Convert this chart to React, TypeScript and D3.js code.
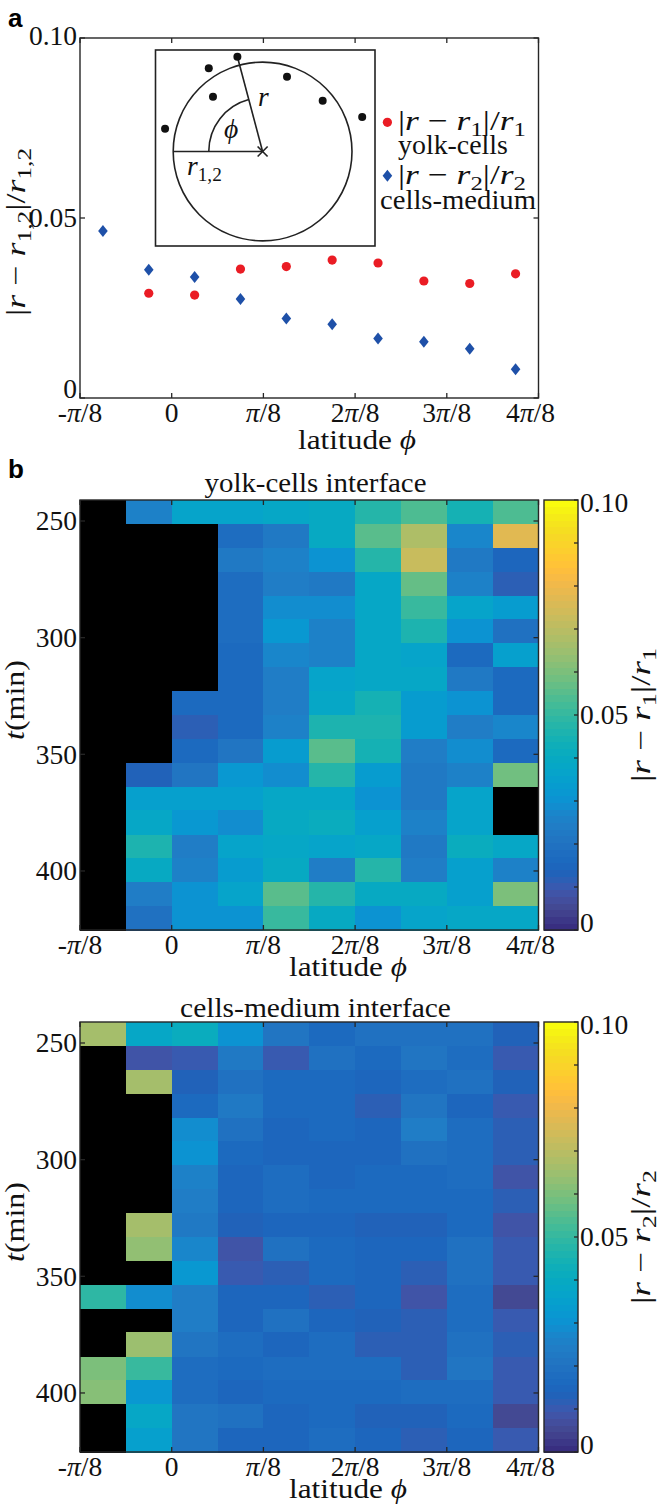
import React, { useLayoutEffect, useRef, useState } from "react";
import * as d3 from "d3";

const PI = Math.PI;

// ---------- categories / ticks ----------
const latitudeCenters = [-0.2945, -0.0982, 0.0982, 0.2945, 0.4909, 0.6872, 0.8836, 1.0799, 1.2763, 1.4726];
const latitudeBinWidth = PI / 16;
const latitudeTicks = [-PI / 8, 0, PI / 8, (2 * PI) / 8, (3 * PI) / 8, (4 * PI) / 8];
const latitudeTickLabels = ["-π/8", "0", "π/8", "2π/8", "3π/8", "4π/8"];

const deviationTicks = [0, 0.05, 0.1];
const deviationTickLabels = ["0", "0.05", "0.10"];

// ---------- panel a series ----------
const yolkCellsDeviation = [null, 0.0291, 0.0286, 0.0358, 0.0365, 0.0383, 0.0375, 0.0325, 0.0318, 0.0345];
const cellsMediumDeviation = [0.0464, 0.0356, 0.0336, 0.0275, 0.0221, 0.0205, 0.0165, 0.0156, 0.0137, 0.008];

// ---------- panel b ----------
const timeCenters = [246.1, 256.4, 266.6, 276.8, 287.1, 297.3, 307.6, 317.8, 328.0, 338.3, 348.5, 358.8, 369.0, 379.2, 389.5, 399.7, 410.0, 420.2];
const timeBinWidth = 10.24;
const timeTicks = [250, 300, 350, 400];
const timeTickLabels = ["250", "300", "350", "400"];

const colorbarMinorTicks = [0, 0.01, 0.02, 0.03, 0.04, 0.05, 0.06, 0.07, 0.08, 0.09, 0.1];
const colorbarTicks = [0, 0.05, 0.1];
const colorbarTickLabels = ["0", "0.05", "0.10"];

const N = null;
const yolkCellsMap: (number | null)[][] = [
  [N, 0.025, 0.036, 0.036, 0.038, 0.040, 0.047, 0.054, 0.044, 0.054],
  [N, N, N, 0.018, 0.023, 0.040, 0.055, 0.068, 0.027, 0.077],
  [N, N, N, 0.023, 0.025, 0.031, 0.047, 0.073, 0.023, 0.015],
  [N, N, N, 0.018, 0.024, 0.023, 0.039, 0.057, 0.025, 0.012],
  [N, N, N, 0.018, 0.029, 0.029, 0.039, 0.050, 0.036, 0.033],
  [N, N, N, 0.018, 0.032, 0.025, 0.039, 0.046, 0.031, 0.019],
  [N, N, N, 0.017, 0.027, 0.025, 0.039, 0.036, 0.017, 0.035],
  [N, N, N, 0.017, 0.024, 0.036, 0.039, 0.038, 0.022, 0.017],
  [N, N, 0.016, 0.017, 0.024, 0.039, 0.045, 0.034, 0.031, 0.017],
  [N, N, 0.012, 0.017, 0.026, 0.046, 0.046, 0.034, 0.024, 0.028],
  [N, N, 0.017, 0.021, 0.034, 0.055, 0.045, 0.024, 0.029, 0.017],
  [N, 0.014, 0.021, 0.032, 0.029, 0.047, 0.034, 0.023, 0.026, 0.058],
  [N, 0.035, 0.035, 0.035, 0.039, 0.039, 0.031, 0.022, 0.036, N],
  [N, 0.039, 0.032, 0.029, 0.040, 0.041, 0.035, 0.026, 0.036, N],
  [N, 0.046, 0.024, 0.037, 0.039, 0.037, 0.038, 0.022, 0.042, 0.039],
  [N, 0.040, 0.026, 0.033, 0.040, 0.024, 0.047, 0.024, 0.035, 0.026],
  [N, 0.024, 0.031, 0.036, 0.055, 0.047, 0.040, 0.040, 0.035, 0.060],
  [N, 0.019, 0.031, 0.030, 0.050, 0.040, 0.031, 0.036, 0.039, 0.039],
];

const cellsMediumMap: (number | null)[][] = [
  [0.067, 0.038, 0.041, 0.031, 0.021, 0.017, 0.019, 0.019, 0.019, 0.014],
  [N, 0.008, 0.010, 0.023, 0.010, 0.019, 0.016, 0.021, 0.018, 0.010],
  [N, 0.067, 0.014, 0.019, 0.016, 0.016, 0.015, 0.018, 0.019, 0.013],
  [N, N, 0.017, 0.023, 0.017, 0.017, 0.012, 0.021, 0.015, 0.010],
  [N, N, 0.029, 0.019, 0.015, 0.017, 0.015, 0.024, 0.018, 0.012],
  [N, N, 0.031, 0.017, 0.015, 0.015, 0.015, 0.019, 0.018, 0.012],
  [N, N, 0.026, 0.015, 0.018, 0.015, 0.016, 0.016, 0.018, 0.008],
  [N, N, 0.024, 0.015, 0.018, 0.016, 0.016, 0.016, 0.017, 0.011],
  [N, 0.067, 0.023, 0.014, 0.015, 0.015, 0.014, 0.013, 0.016, 0.008],
  [N, 0.064, 0.028, 0.008, 0.019, 0.016, 0.015, 0.015, 0.019, 0.010],
  [N, N, 0.032, 0.010, 0.012, 0.016, 0.015, 0.012, 0.019, 0.010],
  [0.049, 0.029, 0.024, 0.015, 0.015, 0.012, 0.015, 0.009, 0.018, 0.006],
  [N, N, 0.024, 0.015, 0.019, 0.015, 0.013, 0.012, 0.018, 0.010],
  [N, 0.065, 0.021, 0.018, 0.015, 0.018, 0.012, 0.012, 0.019, 0.011],
  [0.060, 0.051, 0.018, 0.017, 0.018, 0.018, 0.018, 0.012, 0.021, 0.010],
  [0.061, 0.032, 0.018, 0.015, 0.017, 0.016, 0.016, 0.018, 0.018, 0.010],
  [N, 0.039, 0.021, 0.019, 0.015, 0.017, 0.013, 0.013, 0.016, 0.006],
  [N, 0.035, 0.021, 0.015, 0.015, 0.018, 0.015, 0.012, 0.015, 0.010],
];

// parula(64)
const parula = [
  "#352a87", "#363093", "#3637a0", "#353dad", "#3243ba", "#2c4ac7", "#2053d4", "#0f5cdd",
  "#0363e1", "#0268e1", "#046de0", "#0871de", "#0d75dc", "#1079da", "#127dd8", "#1481d6",
  "#1485d4", "#1389d3", "#108ed2", "#0c93d2", "#0998d1", "#079ccf", "#06a0cd", "#06a4ca",
  "#06a7c6", "#07a9c2", "#0aacbe", "#0faeb9", "#15b1b4", "#1db3af", "#25b5a9", "#2eb7a4",
  "#38b99e", "#42bb98", "#4dbc92", "#59bd8c", "#65be86", "#71bf80", "#7cbf7b", "#87bf77",
  "#92bf73", "#9cbf6f", "#a5be6b", "#aebe67", "#b7bd64", "#c0bc60", "#c8bc5d", "#d1bb59",
  "#d9ba56", "#e1b952", "#e9b94e", "#f1b94a", "#f8bb44", "#fdbe3d", "#ffc337", "#fec832",
  "#fcce2e", "#fad32a", "#f7d826", "#f5de21", "#f5e41d", "#f5eb18", "#f6f313", "#f9fb0e",
];
// printed look: deep blues are duller in the reference
const parulaPrint = parula.map((c) => {
  const h = d3.hsl(c);
  const w = Math.max(0, Math.min(1, (h.h - 200) / 15)) * Math.max(0, Math.min(1, (252 - h.h) / 15));
  h.s = h.s * (1 - 0.3 * w);
  h.l = h.l * (1 - 0.05 * w);
  return h.formatHex();
});

const SERIF = "'Liberation Serif', 'Times New Roman', 'DejaVu Serif', serif";
const SANS = "'Liberation Sans', Arial, sans-serif";
const F = 27.5;
const INK = "#262626";
const TXT = "#111";

const X0 = 80;
const X1 = 538.5;
const x = d3.scaleLinear().domain([-PI / 8, PI / 2]).range([X0, X1]);
const color = d3.scaleQuantize<string>().domain([0, 0.1]).range(parulaPrint);

function PiLabel({ label }: { label: string }) {
  const i = label.indexOf("π");
  if (i < 0) return <>{label}</>;
  return (
    <>
      <tspan>{label.slice(0, i)}</tspan>
      <tspan fontStyle="italic">π</tspan>
      <tspan>{label.slice(i + 1)}</tspan>
    </>
  );
}

function RDev({ sub }: { sub: string }) {
  const s = F * 0.7;
  const d = F * 0.22;
  return (
    <>
      <tspan>|</tspan>
      <tspan fontStyle="italic">r</tspan>
      <tspan>{"\u2005−\u2005"}</tspan>
      <tspan fontStyle="italic">r</tspan>
      <tspan fontSize={s} dy={d}>{sub}</tspan>
      <tspan dy={-d}>|/</tspan>
      <tspan fontStyle="italic">r</tspan>
      <tspan fontSize={s} dy={d}>{sub}</tspan>
    </>
  );
}

// text that is scaled along its direction to a measured target width
function FitText({ x: px, y: py, rotate = 0, anchor = "start", width, children }: { x: number; y: number; rotate?: number; anchor?: string; width: number; children: React.ReactNode }) {
  const ref = useRef<SVGTextElement>(null);
  const [s, setS] = useState(1);
  useLayoutEffect(() => {
    const el = ref.current;
    if (!el) return;
    const w = el.getBBox().width;
    if (w > 0) setS(width / w);
  }, [width]);
  return (
    <g transform={`translate(${px},${py}) rotate(${rotate}) scale(${s},1)`}>
      <text ref={ref} x={0} y={0} textAnchor={anchor as any} fontFamily={SERIF} fontSize={F} fill={TXT}>
        {children}
      </text>
    </g>
  );
}

function LatitudeAxis({ top, bottom, labelY, latY, latX }: { top: number; bottom: number; labelY: number; latY: number; latX: number }) {
  return (
    <g>
      {latitudeTicks.map((t, i) => (
        <g key={i}>
          <line x1={x(t)} x2={x(t)} y1={bottom} y2={bottom - 5} stroke={INK} strokeWidth={1.3} />
          <line x1={x(t)} x2={x(t)} y1={top} y2={top + 5} stroke={INK} strokeWidth={1.3} />
          <text x={x(t)} dx={i === latitudeTicks.length - 1 ? -8 : 0} y={labelY} textAnchor="middle" fontFamily={SERIF} fontSize={F} fill={TXT}>
            <PiLabel label={latitudeTickLabels[i]} />
          </text>
        </g>
      ))}
      <FitText x={latX} y={latY} anchor="middle" width={118}>
        latitude <tspan fontStyle="italic">ϕ</tspan>
      </FitText>
    </g>
  );
}

// inset schematic: dot positions relative to circle radius
const insetDots = [
  [-0.602, -0.931], [-0.282, -1.06], [0.273, -0.837], [-0.555, -0.613],
  [0.672, -0.568], [1.114, -0.386], [-1.091, -0.255],
];

function PanelA() {
  const yA = d3.scaleLinear().domain([0, 0.1]).range([398, 38]);
  const top = 38, bottom = 398;
  const labelDy = [0, 9, 7];
  const cx = 262.6, cy = 151.5, R = 89.4;
  const rDot = insetDots[1];
  const ang = Math.atan2(rDot[1], rDot[0]) + 2 * PI;
  const arc = d3.path();
  arc.arc(cx, cy, R * 0.602, PI, ang, false);
  const diamond = (px: number, py: number) => `M${px},${py - 6}L${px + 4.8},${py}L${px},${py + 6}L${px - 4.8},${py}Z`;
  return (
    <g>
      <text x={8} y={27} fontFamily={SANS} fontWeight="bold" fontSize={26}>a</text>
      <rect x={X0} y={top} width={X1 - X0} height={bottom - top} fill="white" stroke={INK} strokeWidth={1.4} />
      {deviationTicks.map((v, i) => (
        <g key={i}>
          <line x1={X0} x2={X0 + 5} y1={yA(v)} y2={yA(v)} stroke={INK} strokeWidth={1.3} />
          <line x1={X1} x2={X1 - 5} y1={yA(v)} y2={yA(v)} stroke={INK} strokeWidth={1.3} />
          <text x={77} y={yA(v) + labelDy[i]} textAnchor="end" fontFamily={SERIF} fontSize={F} fill={TXT}>{deviationTickLabels[i]}</text>
        </g>
      ))}
      <LatitudeAxis top={top} bottom={bottom} labelY={422} latY={449} latX={357} />
      <FitText x={25} y={232} rotate={-90} anchor="middle" width={168}>
        <RDev sub="1,2" />
      </FitText>
      {/* inset */}
      <rect x={155.5} y={50} width={219.5} height={196} fill="white" stroke="#222" strokeWidth={1.6} />
      <circle cx={cx} cy={cy} r={R} fill="none" stroke="#222" strokeWidth={1.6} />
      <line x1={cx - R} x2={cx} y1={cy} y2={cy} stroke="#222" strokeWidth={1.6} />
      <line x1={cx} y1={cy} x2={cx + rDot[0] * R} y2={cy + rDot[1] * R} stroke="#222" strokeWidth={1.6} />
      <path d={arc.toString()} fill="none" stroke="#222" strokeWidth={1.6} />
      <line x1={cx - 5} x2={cx + 5} y1={cy - 5} y2={cy + 5} stroke="#222" strokeWidth={1.6} />
      <line x1={cx - 5} x2={cx + 5} y1={cy + 5} y2={cy - 5} stroke="#222" strokeWidth={1.6} />
      {insetDots.map((d, i) => (
        <circle key={i} cx={cx + d[0] * R} cy={cy + d[1] * R} r={4} fill="#111" />
      ))}
      <text x={258} y={106} fontFamily={SERIF} fontSize={F} fontStyle="italic" fill={TXT}>r</text>
      <text x={224} y={138} fontFamily={SERIF} fontSize={F} fontStyle="italic" fill={TXT}>ϕ</text>
      <text x={187} y={175} fontFamily={SERIF} fontSize={F} fill={TXT}>
        <tspan fontStyle="italic">r</tspan>
        <tspan fontSize={F * 0.7} dy={F * 0.22}>1,2</tspan>
      </text>
      {/* data */}
      {yolkCellsDeviation.map((v, i) =>
        v == null ? null : <circle key={"r" + i} cx={x(latitudeCenters[i])} cy={yA(v)} r={4.6} fill="#ea1c24" />
      )}
      {cellsMediumDeviation.map((v, i) => (
        <path key={"b" + i} d={diamond(x(latitudeCenters[i]), yA(v))} fill="#1e50a8" />
      ))}
      {/* legend */}
      <circle cx={387.4} cy={122.3} r={4.6} fill="#ea1c24" />
      <FitText x={398} y={130} width={128}><RDev sub="1" /></FitText>
      <FitText x={398} y={154} width={110}>yolk-cells</FitText>
      <path d={diamond(387.4, 175.7)} fill="#1e50a8" />
      <FitText x={398} y={184} width={128}><RDev sub="2" /></FitText>
      <FitText x={380} y={209} width={156}>cells-medium</FitText>
    </g>
  );
}

function Heatmap({ top, data, title, titleY, titleLen, sub, panelLabel }: { top: number; data: (number | null)[][]; title: string; titleY: number; titleLen: number; sub: string; panelLabel?: string }) {
  const bottom = top + 430;
  const y = d3.scaleLinear().domain([241, 425.3]).range([top, bottom]);
  const cb = d3.scaleLinear().domain([0, 0.1]).range([bottom, top]);
  const CB0 = 544, CB1 = 578;
  const levels = d3.range(64);
  const cbLabelDy = [2, 9, 12];
  return (
    <g>
      {panelLabel && <text x={8} y={top - 22} fontFamily={SANS} fontWeight="bold" fontSize={26}>{panelLabel}</text>}
      <FitText x={315.5} y={titleY} anchor="middle" width={titleLen}>{title}</FitText>
      <g shapeRendering="crispEdges">
        {data.map((row, ri) =>
          row.map((v, ci) => {
            const c = latitudeCenters[ci];
            const x0 = x(c - latitudeBinWidth / 2);
            const x1 = x(c + latitudeBinWidth / 2);
            const y0 = y(timeCenters[ri] - timeBinWidth / 2);
            const y1 = y(timeCenters[ri] + timeBinWidth / 2);
            return (
              <rect key={ri + "-" + ci} x={x0} y={y0} width={x1 - x0 + 0.5} height={y1 - y0 + 0.5} fill={v == null ? "#000" : color(v)} />
            );
          })
        )}
      </g>
      <rect x={X0} y={top} width={X1 - X0} height={430} fill="none" stroke={INK} strokeWidth={1.4} />
      {timeTicks.map((t, i) => (
        <g key={i}>
          <line x1={X0} x2={X0 + 5} y1={y(t)} y2={y(t)} stroke={INK} strokeWidth={1.3} />
          <line x1={X1} x2={X1 - 5} y1={y(t)} y2={y(t)} stroke={INK} strokeWidth={1.3} />
          <text x={77} y={y(t) + 9.2} textAnchor="end" fontFamily={SERIF} fontSize={F} fill={TXT}>{timeTickLabels[i]}</text>
        </g>
      ))}
      <LatitudeAxis top={top} bottom={bottom} labelY={bottom + 23.5} latY={bottom + 45.5} latX={348} />
      <FitText x={23.5} y={top + 200} rotate={-90} anchor="middle" width={80}>
        <tspan fontStyle="italic">t</tspan>(min)
      </FitText>
      {/* colorbar */}
      <g shapeRendering="crispEdges">
        {levels.map((i) => {
          const v0 = (i / 64) * 0.1;
          const v1 = ((i + 1) / 64) * 0.1;
          return <rect key={i} x={CB0} y={cb(v1)} width={CB1 - CB0} height={cb(v0) - cb(v1) + 0.5} fill={parulaPrint[i]} />;
        })}
      </g>
      <rect x={CB0} y={top} width={CB1 - CB0} height={430} fill="none" stroke={INK} strokeWidth={1.4} />
      {colorbarMinorTicks.map((v, i) => (
        <line key={i} x1={CB1} x2={CB1 - 4} y1={cb(v)} y2={cb(v)} stroke={INK} strokeWidth={1.3} />
      ))}
      {colorbarTicks.map((v, i) => (
        <text key={i} x={580} y={cb(v) + cbLabelDy[i]} fontFamily={SERIF} fontSize={F} fill={TXT}>{colorbarTickLabels[i]}</text>
      ))}
      <FitText x={650} y={top + 215} rotate={-90} anchor="middle" width={134}>
        <RDev sub={sub} />
      </FitText>
    </g>
  );
}

export default function App() {
  return (
    <svg width={660} height={1504} viewBox="0 0 660 1504" style={{ position: "absolute", left: 0, top: 0, background: "white" }}>
      <rect x={0} y={0} width={660} height={1504} fill="white" />
      <PanelA />
      <Heatmap top={500} data={yolkCellsMap} title="yolk-cells interface" titleY={492} titleLen={222} sub="1" panelLabel="b" />
      <Heatmap top={1022} data={cellsMediumMap} title="cells-medium interface" titleY={1017} titleLen={271} sub="2" />
    </svg>
  );
}
